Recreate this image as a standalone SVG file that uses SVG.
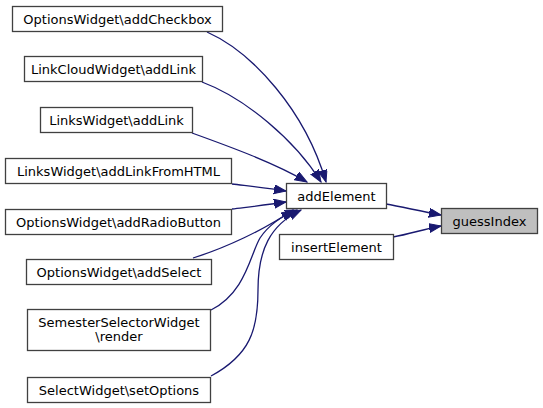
<svg xmlns="http://www.w3.org/2000/svg" width="543" height="408" viewBox="0 0 543 408">
<style>
.n rect{fill:#ffffff;stroke:#404040;stroke-width:1.3}
.n text{font-family:"DejaVu Sans",sans-serif;font-size:13px;fill:#000;text-anchor:middle}
.root rect{fill:#bfbfbf;stroke:#404040}
.e path{fill:none;stroke:#191970;stroke-width:1.3;marker-end:url(#ah)}
</style>
<defs>
<marker id="ah" markerUnits="userSpaceOnUse" markerWidth="13" markerHeight="10" refX="12" refY="4.5" orient="auto">
<path d="M0,0 L12,4.5 L0,9 z" fill="#191970" stroke="#191970"/>
</marker>
</defs>
<rect width="543" height="408" fill="#ffffff"/>
<g id="connectors" class="e">
<path d="M207,32 C252,52 305,110 326,182"/>
<path d="M202,82 C245,98 295,140 321,182"/>
<path d="M192,133 C228,146 275,163 307,182"/>
<path d="M232,184 C248,186 266,188 286,191"/>
<path d="M232,209 C248,207 266,205 286,202"/>
<path d="M193,258 C225,248 264,230 293,210"/>
<path d="M211,310 C246,292 250,255 260,238 C268,226 282,216 297,210"/>
<path d="M211,376 C250,355 258,330 258,290 C258,250 270,225 301,210"/>
<path d="M386,204 C402,207 420,211 441,215"/>
<path d="M393,237 C410,234 424,229 441,226"/>
</g>
<g id="node-addCheckbox" class="n"><rect x="12.5" y="6.5" width="210" height="25"/><text x="117.5" y="23.5">OptionsWidget\addCheckbox</text></g>
<g id="node-LinkCloudAddLink" class="n"><rect x="24.5" y="56.5" width="178" height="25"/><text x="113.5" y="73.5">LinkCloudWidget\addLink</text></g>
<g id="node-LinksAddLink" class="n"><rect x="40.5" y="107.5" width="152" height="25"/><text x="116.5" y="124.5">LinksWidget\addLink</text></g>
<g id="node-addLinkFromHTML" class="n"><rect x="5.5" y="158.5" width="226" height="25"/><text x="118.5" y="175.5">LinksWidget\addLinkFromHTML</text></g>
<g id="node-addRadioButton" class="n"><rect x="5.5" y="209.5" width="226" height="25"/><text x="118.5" y="226.5">OptionsWidget\addRadioButton</text></g>
<g id="node-addSelect" class="n"><rect x="26.5" y="259.5" width="185" height="25"/><text x="119" y="276.5">OptionsWidget\addSelect</text></g>
<g id="node-render" class="n"><rect x="27.5" y="309.5" width="183" height="41"/><text x="119" y="327">SemesterSelectorWidget</text><text x="119" y="341">\render</text></g>
<g id="node-setOptions" class="n"><rect x="27.5" y="377.5" width="183" height="25"/><text x="119" y="394.5">SelectWidget\setOptions</text></g>
<g id="node-addElement" class="n"><rect x="286.5" y="183.5" width="100" height="25"/><text x="336.5" y="200.5">addElement</text></g>
<g id="node-insertElement" class="n"><rect x="279.5" y="234.5" width="114" height="25"/><text x="336.5" y="251.5">insertElement</text></g>
<g id="node-guessIndex" class="n root"><rect x="441.5" y="208.5" width="96" height="25"/><text x="489.5" y="225.5">guessIndex</text></g>
</svg>
